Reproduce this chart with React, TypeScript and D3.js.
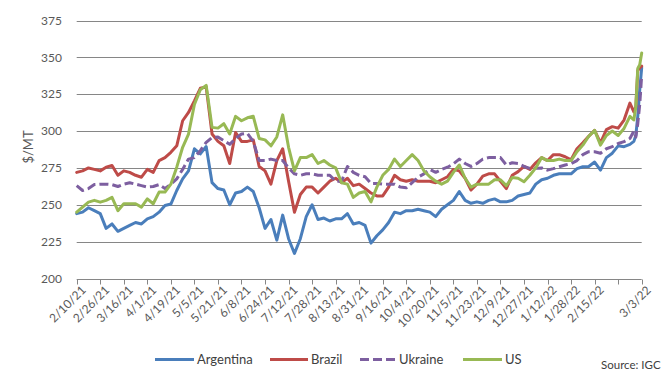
import React from "react";
import * as d3 from "d3";

// trading-day index (0 = 2/10/21, 288 = 3/3/22)
const tradingDay = [
  0, 3, 6, 9, 12, 15, 18, 21, 24, 27, 30, 33, 36, 39, 42, 45, 48, 51, 54, 57, 60, 63, 66, 69, 72,
  75, 78, 81, 84, 87, 90, 93, 96, 99, 102, 105, 108, 111, 114, 117, 120, 123, 126, 129, 132, 135, 138, 141, 144,
  147, 150, 153, 156, 159, 162, 165, 168, 171, 174, 177, 180, 183, 186, 189, 192, 195, 198, 201, 204, 207, 210, 213, 216,
  219, 222, 225, 228, 231, 234, 237, 240, 243, 246, 249, 252, 255, 258, 261, 264, 267, 270, 273, 276, 279, 282,
  284, 285, 286, 287, 288,
];

const argentina = [
  244, 245, 248, 246, 244, 234, 237, 232, 234, 236, 238, 237, 240.5, 242, 245, 249.5, 250.5, 259.7, 267.6, 273, 288, 284.5, 289.5, 265, 261,
  260, 250, 258, 259, 262, 259, 248, 234, 240, 226, 243, 227, 217, 227, 242, 250, 240, 241, 239, 240.5, 240.5, 244, 237, 238,
  236, 224, 229, 233, 238, 245, 244, 246, 246, 247, 246, 245, 242, 247, 250, 253, 259, 253, 251, 252, 251, 253, 254, 252,
  252, 253, 256, 257, 258, 264, 267, 268, 270, 271, 271, 271, 274.5, 275.8, 276, 279, 273.5, 282, 285, 290, 289.4, 291,
  293, 297, 310, 328, 343,
];

const brazil = [
  272, 273, 275, 274, 273, 275.5, 276.6, 270, 273, 272, 270, 268.7, 274, 272, 280, 282, 285.6, 290, 307, 312.6, 320.5, 329, 330, 298, 293,
  290, 278, 299, 293, 293, 294, 276, 273, 264, 280, 288, 266, 245, 257, 262, 262, 258, 262, 266, 268, 265, 268, 263, 264,
  261, 258, 256, 256, 262, 270, 267, 266, 267, 266, 266, 266, 265, 267, 269, 274, 273, 268, 260, 264, 269.5, 271, 271, 266,
  261, 270, 272.5, 276, 274, 278.5, 282, 280, 284, 284, 282.6, 280.5, 288, 292, 296.5, 300.5, 292, 301, 303, 302, 307.5, 319,
  313, 316.5, 341, 343, 344,
];

const ukraine = [
  263, 259.7, 261, 263.7, 264, 264, 263.7, 262.4, 264, 265, 264, 263, 262, 262.4, 263.7, 261, 264, 267.6, 274, 281, 282, 286.7, 292.3, 295.7, 296,
  293.5, 291, 295, 298, 298.5, 293, 280, 280, 281, 280, 280, 275, 271, 270, 271, 271, 270, 270, 270, 266, 266, 276, 272, 270,
  269, 264.5, 264.5, 264, 264, 264, 262, 261.5, 265, 268.7, 271, 274, 272, 274, 275.5, 277.7, 281, 278, 276, 278, 281, 282, 282, 282,
  277, 278.5, 278, 276, 274.7, 274.7, 275, 273.5, 274.5, 275.8, 277, 278, 280, 284, 286, 286, 285, 288, 289.4, 291.6, 292.8, 295,
  300, 296, 305, 318, 338,
];

const us = [
  245, 248.4, 251.8, 253, 251.8, 253, 255, 246, 250.7, 250.7, 250.7, 248.4, 254, 250.7, 258.6, 258.6, 264, 275.5, 289, 298, 318, 328, 331, 302.5, 302,
  305, 298, 310, 307, 309, 310, 295, 294, 290, 296, 311, 289, 273, 282, 282, 284, 278, 280, 277, 275, 265, 264, 255, 258,
  259, 252, 262, 270, 274, 281, 276, 280, 284, 280, 273, 269, 266, 264, 266, 272, 277, 268, 262, 264, 264, 264, 267, 267,
  263, 268.5, 268, 265.6, 270, 275, 282, 280, 280, 281, 280, 280, 286, 290.5, 296.5, 300.5, 290.5, 297, 300, 297, 301.8, 310,
  307.5, 316.5, 342.5, 345, 353,
];

const xLabels = [
  "2/10/21", "2/26/21", "3/16/21", "4/1/21", "4/19/21", "5/5/21", "5/21/21", "6/8/21", "6/24/21",
  "7/12/21", "7/28/21", "8/13/21", "8/31/21", "9/16/21", "10/4/21", "10/20/21", "11/5/21", "11/23/21",
  "12/9/21", "12/27/21", "1/12/22", "1/28/22", "2/15/22", "3/3/22",
];
const labelDays = xLabels.map((_, i) => i * 12);
const yTicks = [200, 225, 250, 275, 300, 325, 350, 375];

const seriesNames = ["Argentina", "Brazil", "Ukraine", "US"];
const seriesValues = [argentina, brazil, ukraine, us];
const seriesColors = ["#4A7EBB", "#BE4B48", "#7D5FA0", "#98B954"];
const seriesDash = [null, null, "9,4", null];

export default function App() {
  const W = 667;
  const H = 381;
  const x = d3.scaleLinear().domain([0, 288]).range([76.7, 641.7]);
  const y = d3.scaleLinear().domain([200, 375]).range([278.5, 20.5]);
  const font = "Lato, 'Open Sans', sans-serif";

  const line = d3
    .line<[number, number]>()
    .x((d) => x(d[0]))
    .y((d) => y(d[1]));

  const legendX = [155, 270, 360, 463];
  const legendW = [39, 38, 36, 39];

  return (
    <svg
      width={W}
      height={H}
      style={{ position: "absolute", left: 0, top: 0, background: "#fff" }}
      fontFamily={font}
    >
      {/* gridlines */}
      {yTicks.map((t) => (
        <line
          key={t}
          x1={x(0)}
          x2={x(288)}
          y1={Math.round(y(t)) + 0.5}
          y2={Math.round(y(t)) + 0.5}
          stroke="#868686"
          strokeWidth={1}
        />
      ))}
      {/* y tick labels */}
      {yTicks.map((t) => (
        <text
          key={"yl" + t}
          x={62}
          y={y(t)}
          dy="0.35em"
          textAnchor="end"
          fontSize={12}
          fill="#595959"
        >
          {t}
        </text>
      ))}
      {/* x ticks */}
      {labelDays.concat([288]).map((d) => (
        <line
          key={"xt" + d}
          x1={Math.round(x(d)) + 0.5}
          x2={Math.round(x(d)) + 0.5}
          y1={Math.round(y(200)) + 0.5}
          y2={Math.round(y(200)) + 5.5}
          stroke="#868686"
        />
      ))}
      {/* x labels */}
      {xLabels.map((lab, i) => {
        const d = i === xLabels.length - 1 ? 288 : labelDays[i];
        const px = x(d) + 4;
        const py = 285;
        return (
          <text
            key={lab}
            transform={`translate(${px},${py}) rotate(-45)`}
            textAnchor="end"
            dy="0.7em"
            fontSize={12}
            fill="#595959"
          >
            {lab}
          </text>
        );
      })}
      {/* series */}
      {seriesValues.map((vals, si) => {
        const pts: [number, number][] = vals.map((v, i) => [tradingDay[i], v]);
        return (
          <path
            key={seriesNames[si]}
            d={line(pts) || ""}
            fill="none"
            stroke={seriesColors[si]}
            strokeWidth={3}
            strokeLinejoin="round"
            strokeLinecap={seriesDash[si] ? "butt" : "round"}
            strokeDasharray={seriesDash[si] || undefined}
          />
        );
      })}
      {/* y axis title */}
      <text
        transform="translate(28,147) rotate(-90)"
        textAnchor="middle"
        dy="0.35em"
        fontSize={13}
        fill="#595959"
      >
        $/MT
      </text>
      {/* legend */}
      {seriesNames.map((n, i) => (
        <g key={"lg" + n}>
          <line
            x1={legendX[i]}
            x2={legendX[i] + legendW[i]}
            y1={359.5}
            y2={359.5}
            stroke={seriesColors[i]}
            strokeWidth={3}
            strokeDasharray={seriesDash[i] || undefined}
          />
          <text
            x={legendX[i] + legendW[i] + 3}
            y={359.5}
            dy="0.35em"
            fontSize={13}
            fill="#404040"
          >
            {n}
          </text>
        </g>
      ))}
      <text x={601} y={365} dy="0.35em" fontSize={11.5} fill="#404040">
        Source: IGC
      </text>
    </svg>
  );
}
